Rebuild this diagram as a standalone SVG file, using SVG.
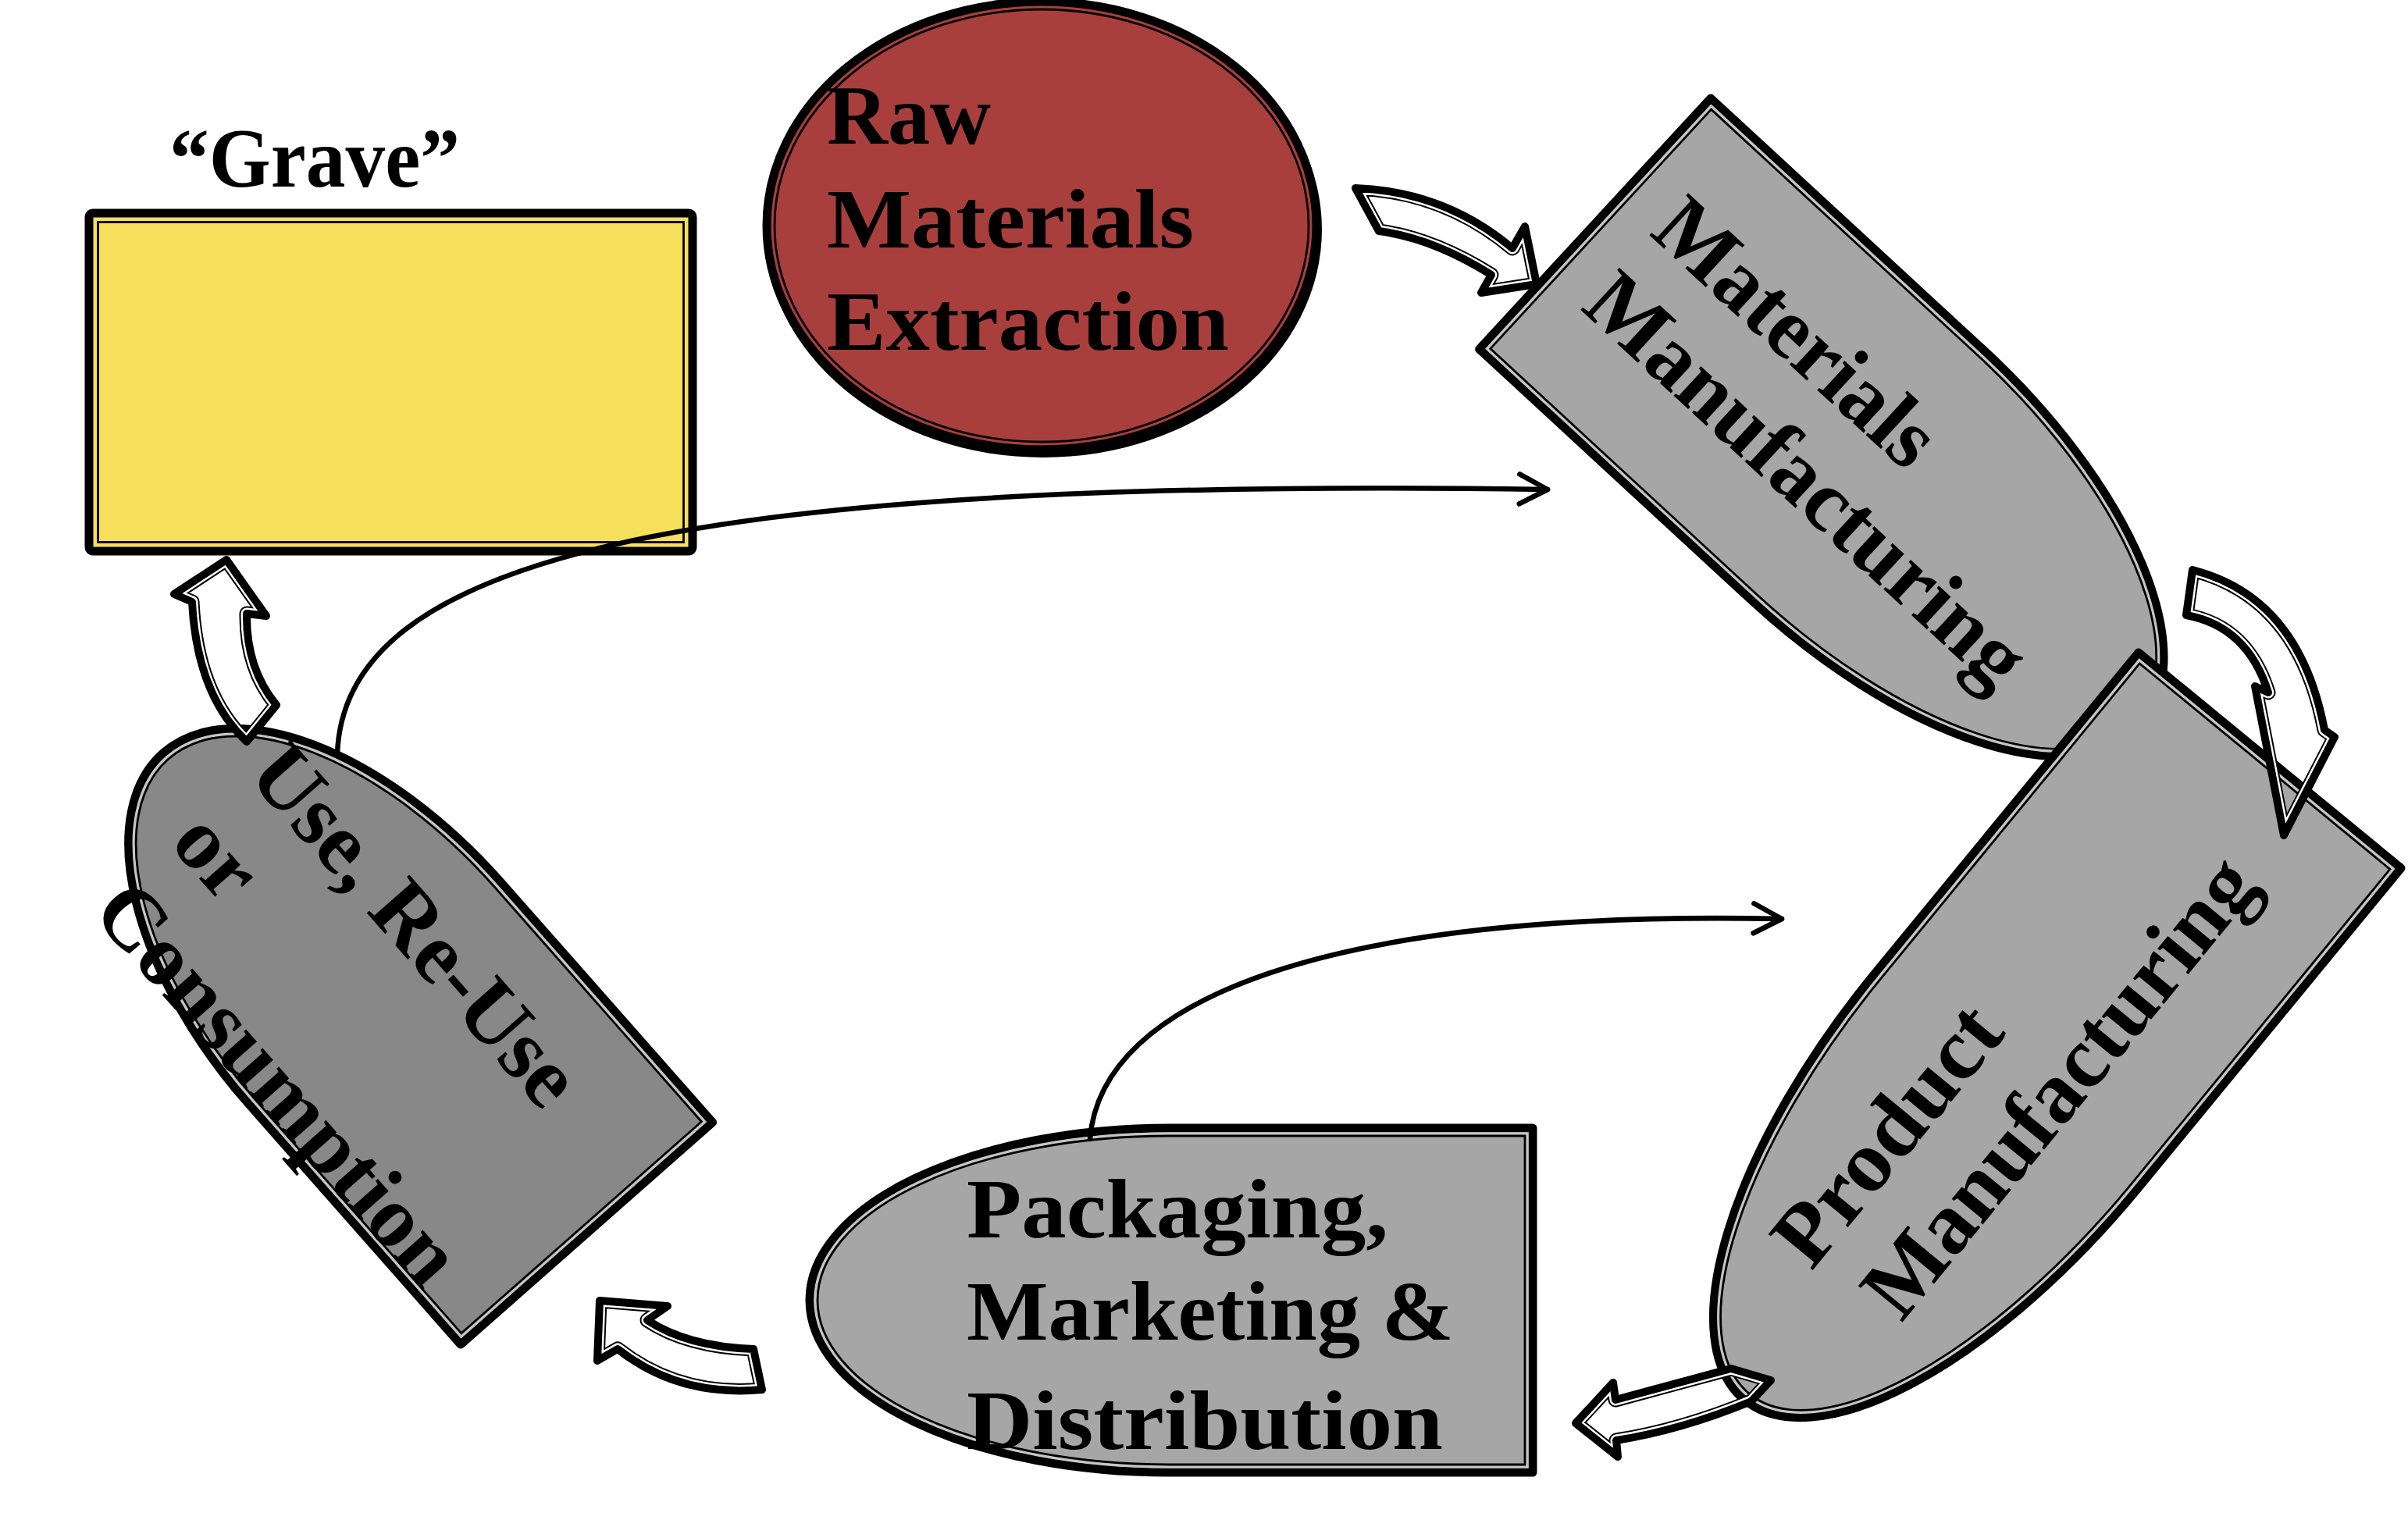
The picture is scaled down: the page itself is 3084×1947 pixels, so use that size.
<svg xmlns="http://www.w3.org/2000/svg" width="3084" height="1947" viewBox="0 0 3084 1947">
<style>
.t{font-family:"Liberation Serif","Times New Roman",serif;font-weight:bold;font-size:107px;fill:#000}
.tr{font-family:"Liberation Serif","Times New Roman",serif;font-weight:bold;font-size:112px;fill:#000}
.ol{stroke:#000;stroke-width:11;stroke-linejoin:round}
.gap{fill:none;stroke:#c6c6c6;stroke-width:3.5}
.thin{fill:none;stroke:#000;stroke-width:2.8}
.conn{fill:none;stroke:#000;stroke-width:6.5;stroke-linecap:round}
.aout{fill:none;stroke:#000;stroke-width:10;stroke-linejoin:round}
.ain1{fill:none;stroke:#000;stroke-width:19;stroke-linejoin:round}
.ain2{fill:none;stroke:#fff;stroke-width:15;stroke-linejoin:round}
</style>
<defs>
<marker id="open" markerUnits="userSpaceOnUse" markerWidth="80" markerHeight="80" viewBox="-60 -40 80 80" refX="0" refY="0" orient="auto" overflow="visible">
<path d="M-36,-19 L0,0 L-36,19" fill="none" stroke="#000" stroke-width="6.5" stroke-linecap="round" stroke-linejoin="round"/>
</marker>
<path id="pA" d="M1736,241 Q1850,245 1937,318 L1953,290 L1968,364 L1897,375 L1910,352 Q1835,305 1766,296 Z"/>
<path id="pB" d="M2808,730 Q2945,765 2977,935 L2990,944 L2925,1070 L2888,879 L2905,887 Q2878,802 2800,788 Z"/>
<path id="pC" d="M2018,1823 L2066,1771 L2069,1793 Q2143,1773 2217,1753 L2268,1768 L2243,1795 Q2153,1832 2070,1845 L2072,1866 Z"/>
<path id="pD" d="M768,1666 L855,1673 L829,1691 Q880,1725 965,1728 L976,1780 Q870,1790 791,1728 L765,1743 Z"/>
<path id="pE" d="M290,717 L341,789 L316,786 Q315,856 354,903 L316,950 Q252,890 246,771 L223,761 Z"/>
<clipPath id="cA"><use href="#pA"/></clipPath>
<clipPath id="cB"><use href="#pB"/></clipPath>
<clipPath id="cC"><use href="#pC"/></clipPath>
<clipPath id="cD"><use href="#pD"/></clipPath>
<clipPath id="cE"><use href="#pE"/></clipPath>
</defs>
<rect width="3084" height="1947" fill="#fff"/>

<g id="grave">
<text class="t" x="217" y="239" textLength="372" lengthAdjust="spacingAndGlyphs">“Grave”</text>
<rect x="114" y="273" width="773" height="433" rx="5" fill="#F6E05B" stroke="#000" stroke-width="11"/>
<rect x="125.5" y="284.5" width="750" height="410" class="thin" stroke-width="3"/>
</g>

<g id="raw-materials-extraction">
<ellipse cx="1336" cy="294" rx="357" ry="292" fill="#000"/>
<ellipse cx="1334" cy="289" rx="352" ry="287" fill="#A93F3D" class="ol"/>
<ellipse cx="1334" cy="289" rx="342" ry="277" class="thin"/>
<text class="t" x="1059" y="184" textLength="210" lengthAdjust="spacingAndGlyphs">Raw</text>
<text class="t" x="1059" y="317" textLength="470" lengthAdjust="spacingAndGlyphs">Materials</text>
<text class="t" x="1059" y="448" textLength="515" lengthAdjust="spacingAndGlyphs">Extraction</text>
</g>

<g id="materials-manufacturing">
<g transform="translate(2191,126) rotate(42.7)">
<path d="M0,0 H475 A475,218.5 0 0 1 475,437 H0 Z" fill="#A6A6A6" class="ol"/>
<path d="M7,7 H475 A468,211.5 0 0 1 475,430 H7 Z" class="gap"/>
<path d="M10,10 H475 A465,208.5 0 0 1 475,427 H10 Z" class="thin"/>
</g>
<g transform="translate(2111,300) rotate(42.7)">
<text class="tr" x="0" y="0" textLength="450" lengthAdjust="spacingAndGlyphs">Materials</text>
<text class="tr" x="0" y="130" textLength="725" lengthAdjust="spacingAndGlyphs">Manufacturing</text>
</g>
</g>

<g id="product-manufacturing">
<g transform="translate(3075,1112) rotate(129.4)">
<path d="M0,0 H530 A530,217.5 0 0 1 530,435 H0 Z" fill="#A6A6A6" class="ol"/>
<path d="M7,7 H530 A523,210.5 0 0 1 530,428 H7 Z" class="gap"/>
<path d="M10,10 H530 A520,207.5 0 0 1 530,425 H10 Z" class="thin"/>
</g>
<g transform="translate(2320,1629) rotate(-50.6)">
<text class="tr" x="0" y="0" textLength="395" lengthAdjust="spacingAndGlyphs">Product</text>
<text class="tr" x="22" y="131" textLength="725" lengthAdjust="spacingAndGlyphs">Manufacturing</text>
</g>
</g>

<g id="packaging">
<path d="M1963,1445 H1497 A460,220.5 0 0 0 1497,1886 H1963 Z" fill="#A6A6A6" class="ol"/>
<path d="M1956,1452 H1497 A453,213.5 0 0 0 1497,1879 H1956 Z" class="gap"/>
<path d="M1953,1455 H1497 A450,210.5 0 0 0 1497,1876 H1953 Z" class="thin"/>
<text class="t" x="1238" y="1585" textLength="540" lengthAdjust="spacingAndGlyphs">Packaging,</text>
<text class="t" x="1238" y="1716" textLength="624" lengthAdjust="spacingAndGlyphs">Marketing &amp;</text>
<text class="t" x="1238" y="1856" textLength="610" lengthAdjust="spacingAndGlyphs">Distribution</text>
</g>

<g id="use-reuse-consumption">
<g transform="translate(590,1722) rotate(228.6)">
<path d="M0,0 H410 A410,215 0 0 1 410,430 H0 Z" fill="#888888" class="ol"/>
<path d="M7,7 H410 A403,208 0 0 1 410,423 H7 Z" class="gap" stroke="#b4b4b4"/>
<path d="M10,10 H410 A400,205 0 0 1 410,420 H10 Z" class="thin"/>
</g>
<g transform="translate(315,994) rotate(48.6)">
<text class="tr" x="0" y="0" textLength="575" lengthAdjust="spacingAndGlyphs">Use, Re-Use</text>
<text class="tr" x="0" y="132">or</text>
<text class="tr" x="0" y="266" textLength="645" lengthAdjust="spacingAndGlyphs">Consumption</text>
</g>
</g>

<g id="connectors">
<g id="arrow-raw-to-materials">
<use href="#pA" class="ain1" clip-path="url(#cA)"/>
<use href="#pA" class="ain2" clip-path="url(#cA)"/>
<use href="#pA" class="aout"/>
</g>
<g id="arrow-materials-to-product">
<use href="#pB" class="ain1" clip-path="url(#cB)"/>
<use href="#pB" class="ain2" clip-path="url(#cB)"/>
<use href="#pB" class="aout"/>
</g>
<g id="arrow-product-to-packaging">
<use href="#pC" class="ain1" clip-path="url(#cC)"/>
<use href="#pC" class="ain2" clip-path="url(#cC)"/>
<use href="#pC" class="aout"/>
</g>
<g id="arrow-packaging-to-use">
<use href="#pD" class="ain1" clip-path="url(#cD)"/>
<use href="#pD" class="ain2" clip-path="url(#cD)"/>
<use href="#pD" class="aout"/>
</g>
<g id="arrow-use-to-grave">
<use href="#pE" class="ain1" clip-path="url(#cE)"/>
<use href="#pE" class="ain2" clip-path="url(#cE)"/>
<use href="#pE" class="aout"/>
</g>
<path id="loop-use-to-materials" class="conn" d="M432,966 C440,720 850,610 1982,627" marker-end="url(#open)"/>
<path id="loop-packaging-to-product" class="conn" d="M1396,1459 C1410,1280 1700,1165 2282,1177" marker-end="url(#open)"/>
</g>
</svg>
